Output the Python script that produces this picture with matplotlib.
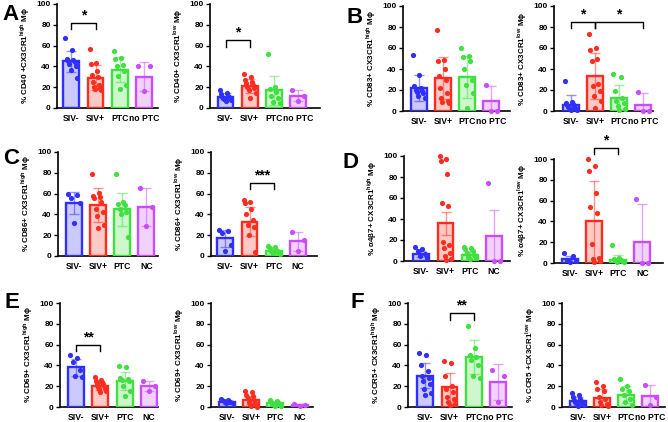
"""
Macrophage marker panels (A-F), CX3CR1 high / low, bar + scatter.
Output: out.png
"""

import matplotlib.pyplot as plt
import numpy as np

plt.rcParams["font.family"] = ["Liberation Sans", "DejaVu Sans"]
plt.rcParams["mathtext.fontset"] = "custom"
plt.rcParams["mathtext.bf"] = "Liberation Sans:bold"
plt.rcParams["mathtext.rm"] = "Liberation Sans"

W, H = 668, 422

COLORS = ["#2f2fff", "#ff2d1f", "#3fe03f", "#c94cff"]

GROUPS_PTC = ["SIV-", "SIV+", "PTC", "no PTC"]
GROUPS_NC = ["SIV-", "SIV+", "PTC", "NC"]

# ---- data ----

# A: CD40
a_high_pts = [
    [67, 56, 47, 46, 45, 44, 42, 40, 37, 29],
    [57, 43, 42, 36, 32, 30, 25, 22, 20, 19, 18, 17],
    [55, 48, 47, 41, 40, 36, 31, 22, 18],
    [40, 40, 16],
]
a_high_mean = [45, 29, 37, 30]
a_high_sd = [10, 12, 12, 14]

a_low_pts = [
    [17, 14, 13, 12, 11, 11, 10, 10, 9, 8, 7],
    [33, 30, 27, 25, 24, 22, 20, 19, 17, 14, 10],
    [52, 20, 18, 15, 12, 10, 6, 5],
    [17, 12, 7],
]
a_low_mean = [11, 21, 17, 12]
a_low_sd = [3, 7, 14, 5]

# B: CD83
b_high_pts = [
    [53, 34, 24, 22, 20, 19, 18, 17, 14, 12],
    [77, 49, 48, 40, 33, 30, 22, 17, 12, 10, 9, 8],
    [60, 52, 51, 48, 40, 30, 25, 17, 3],
    [25, 0, 0],
]
b_high_mean = [22, 31, 32, 10]
b_high_sd = [12, 20, 20, 14]

b_low_pts = [
    [29, 9, 8, 7, 6, 5, 4, 3, 2, 1, 1],
    [73, 60, 58, 50, 48, 26, 24, 19, 14, 10, 3],
    [35, 32, 19, 12, 10, 8, 5, 2, 1],
    [18, 0, 0],
]
b_low_mean = [6, 33, 12, 6]
b_low_sd = [9, 22, 13, 11]

# C: CD86
c_high_pts = [
    [60, 59, 56, 51, 32],
    [79, 61, 58, 57, 56, 52, 45, 42, 38, 30, 27],
    [79, 52, 50, 49, 45, 42, 40, 18],
    [65, 47, 29],
]
c_high_mean = [51, 49, 45, 47]
c_high_sd = [11, 16, 16, 18]

c_low_pts = [
    [25, 24, 22, 11, 5],
    [54, 52, 51, 45, 40, 35, 30, 28, 20, 4],
    [10, 9, 8, 6, 5, 4, 3, 2],
    [23, 15, 5],
]
c_low_mean = [17, 33, 5, 14]
c_low_sd = [8, 14, 2, 9]

# D: a4b7
d_high_pts = [
    [13, 11, 10, 7, 5, 3],
    [100, 97, 95, 83, 55, 52, 18, 15, 12, 8, 5, 2, 1],
    [13, 12, 11, 10, 8, 6, 4, 3, 2],
    [74, 0, 0],
]
d_high_mean = [7, 36, 6, 24]
d_high_sd = [3, 11, 4, 25]

d_low_pts = [
    [10, 7, 3, 2, 1],
    [100, 93, 88, 67, 54, 48, 18, 5, 4, 2, 1],
    [17, 5, 4, 3, 2, 2, 1, 1],
    [62, 0, 0],
]
d_low_mean = [4, 40, 3, 20]
d_low_sd = [3, 39, 5, 37]

# E: CD69
e_high_pts = [
    [50, 47, 43, 36, 30, 29],
    [29, 26, 25, 24, 23, 22, 21, 20, 19, 18, 17, 15, 14],
    [39, 38, 28, 27, 26, 25, 20, 15, 11],
    [25, 20, 15],
]
e_high_mean = [38, 20, 25, 20]
e_high_sd = [8, 4, 9, 5]

e_low_pts = [
    [8, 7, 6, 5, 4, 4],
    [15, 14, 12, 11, 9, 7, 5, 4, 3, 2, 1, 0],
    [7, 6, 5, 4, 3, 2, 2, 1, 1],
    [3, 2, 1],
]
e_low_mean = [5, 7, 4, 2]
e_low_sd = [2, 4, 2, 1]

# F: CCR5
f_high_pts = [
    [52, 50, 40, 35, 30, 28, 25, 22, 17, 13, 12],
    [44, 42, 30, 20, 17, 14, 10, 8, 5, 3, 2],
    [78, 57, 50, 48, 45, 40, 30, 28],
    [36, 30, 5],
]
f_high_mean = [30, 19, 48, 24]
f_high_sd = [12, 14, 16, 17]

f_low_pts = [
    [13, 12, 10, 8, 7, 6, 5, 4, 3, 2, 1],
    [24, 20, 17, 15, 10, 8, 5, 3, 2, 1],
    [27, 20, 17, 15, 12, 8, 5, 2],
    [21, 10, 2],
]
f_low_mean = [6, 9, 12, 11]
f_low_sd = [4, 8, 8, 10]

# (label, groups, pts, mean, sd, brackets[(i, j, y, text)],
#  axis box in px: left, right, top(=100), bottom(=0), first bar centre)
PANELS = [
    ("% CD40 +CX3CR1$^{\\mathbf{high}}$ Mϕ", GROUPS_PTC, a_high_pts, a_high_mean, a_high_sd,
     [(0, 1, 82, "*")], (57, 158, 4, 108, 71.3)),
    ("% CD40+ CX3CR1$^{\\mathbf{low}}$ Mϕ", GROUPS_PTC, a_low_pts, a_low_mean, a_low_sd,
     [(0, 1, 65, "*")], (210, 320, 4, 108, 225.5)),
    ("% CD83+ CX3CR1$^{\\mathbf{high}}$ Mϕ", GROUPS_PTC, b_high_pts, b_high_mean, b_high_sd,
     [], (403, 510, 6, 111, 418.8)),
    ("% CD83+ CX3CR1$^{\\mathbf{low}}$ Mϕ", GROUPS_PTC, b_low_pts, b_low_mean, b_low_sd,
     [(0, 1, 85, "*"), (1, 3, 85, "*")], (554, 653, 6, 111, 570.8)),
    ("% CD86+ CX3CR1$^{\\mathbf{high}}$ Mϕ", GROUPS_NC, c_high_pts, c_high_mean, c_high_sd,
     [], (58, 158, 152, 256, 73.7)),
    ("% CD86+ CX3CR1$^{\\mathbf{low}}$ Mϕ", GROUPS_NC, c_low_pts, c_low_mean, c_low_sd,
     [(1, 2, 70, "***")], (211, 317, 152, 256, 225.3)),
    ("% α4β7+ CX3CR1$^{\\mathbf{high}}$ Mϕ", GROUPS_NC, d_high_pts, d_high_mean, d_high_sd,
     [], (404, 510, 156, 261, 421.3)),
    ("% α4β7+ CX3CR1$^{\\mathbf{low}}$ Mϕ", GROUPS_NC, d_low_pts, d_low_mean, d_low_sd,
     [(1, 2, 111, "*")], (554, 663, 159, 263, 569.7)),
    ("% CD69+ CX3CR1$^{\\mathbf{high}}$ Mϕ", GROUPS_NC, e_high_pts, e_high_mean, e_high_sd,
     [(0, 1, 60, "**")], (60, 158, 303, 407, 76.2)),
    ("% CD69+ CX3CR1$^{\\mathbf{low}}$ Mϕ", GROUPS_NC, e_low_pts, e_low_mean, e_low_sd,
     [], (211, 313, 303, 407, 227)),
    ("% CCR5+ CX3CR1$^{\\mathbf{high}}$ Mϕ", GROUPS_PTC, f_high_pts, f_high_mean, f_high_sd,
     [(1, 2, 90, "**")], (408, 512, 303, 407, 425.3)),
    ("% CCR5 +CX3CR1$^{\\mathbf{low}}$ Mϕ", GROUPS_PTC, f_low_pts, f_low_mean, f_low_sd,
     [], (562, 665, 303, 407, 577.8)),
]

LETTERS = [("A", 2, 4), ("B", 346, 7), ("C", 3, 148), ("D", 342, 152),
           ("E", 5, 292), ("F", 351, 292)]

SPACING = 24.2  # px between bar centres


def spread(n):
    # simple deterministic scatter layout inside a bar
    if n == 1:
        return np.zeros(1)
    offs = np.linspace(-0.24, 0.24, n)
    order = np.argsort(np.r_[0:n:2, 1:n:2])
    return offs[order]


def draw_panel(fig, spec):
    ylabel, groups, pts, mean, sd, brackets, box = spec
    left, right, top, bottom, c0 = box

    ax = fig.add_axes([left / W, 1 - bottom / H,
                       (right - left) / W, (bottom - top) / H])

    x = np.arange(len(groups))
    for i, g in enumerate(groups):
        col = COLORS[i]
        ax.bar(i, mean[i], width=0.66, color=col, alpha=0.25, zorder=1)
        ax.bar(i, mean[i], width=0.66, facecolor="none", edgecolor=col,
               linewidth=1.7, zorder=3)
        ax.errorbar(i, mean[i], yerr=sd[i], color=col, alpha=0.5,
                    capsize=3.5, capthick=1, elinewidth=1, zorder=2)
        vals = np.array(pts[i], dtype=float)
        ax.scatter(i + spread(len(vals)), vals, s=14, color=col,
                   zorder=4, clip_on=False, linewidths=0)

    for i, j, y, txt in brackets:
        ax.plot([i, i, j, j], [y - 6, y, y, y - 6], color="black",
                lw=1, clip_on=False, zorder=5)
        ax.text((i + j) / 2, y + 0.5, txt, ha="center", va="bottom",
                fontsize=10, fontweight="bold", clip_on=False)

    ax.set_xlim((left - c0) / SPACING, (right - c0) / SPACING)
    ax.set_ylim(0, 100)
    ax.set_yticks([0, 20, 40, 60, 80, 100])
    ax.set_xticks(x)
    ax.set_xticklabels(groups, fontweight="bold", fontsize=6.2)
    for lab in ax.get_yticklabels():
        lab.set_fontweight("bold")
    ax.tick_params(axis="y", labelsize=6, length=3, width=1, pad=1.5)
    ax.tick_params(axis="x", length=0, pad=4.5)
    ax.set_ylabel(ylabel, fontsize=5.8, fontweight="bold", labelpad=3)

    for s in ["top", "right"]:
        ax.spines[s].set_visible(False)
    for s in ["left", "bottom"]:
        ax.spines[s].set_linewidth(1.2)

    return ax


def main():
    fig = plt.figure(figsize=(W / 100, H / 100), dpi=100)

    for spec in PANELS:
        draw_panel(fig, spec)

    for letter, px, py in LETTERS:
        fig.text(px / W, 1 - py / H, letter, fontsize=16, fontweight="bold",
                 ha="left", va="top")

    fig.savefig("out.png", dpi=100)
    plt.close(fig)


if __name__ == "__main__":
    main()
